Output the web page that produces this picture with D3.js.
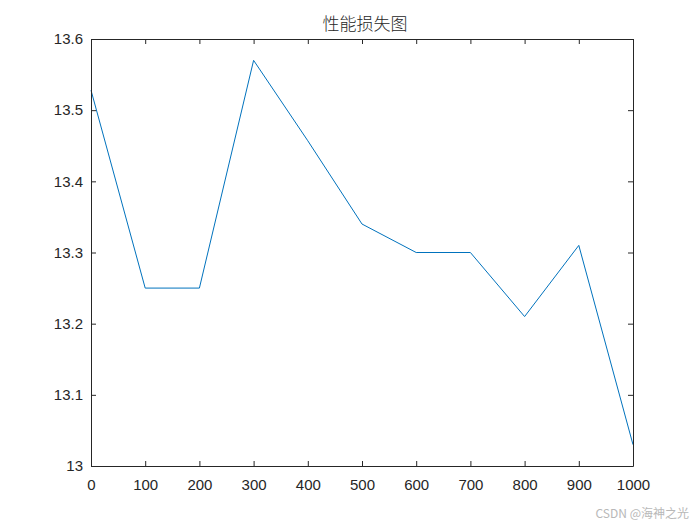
<!DOCTYPE html>
<html><head><meta charset="utf-8">
<script src="https://cdn.jsdelivr.net/npm/d3@7"></script>
<style>body{margin:0;background:#fff;} svg{display:block;}</style>
</head><body>
<svg id="c" width="700" height="525"></svg>
<script>
const xValues = [0, 100, 200, 300, 400, 500, 600, 700, 800, 900, 1000];
const yValues = [13.528, 13.25, 13.25, 13.57, 13.457, 13.34, 13.30, 13.30, 13.21, 13.31, 13.03];
const xTicks = [0, 100, 200, 300, 400, 500, 600, 700, 800, 900, 1000];
const yTicks = [13, 13.1, 13.2, 13.3, 13.4, 13.5, 13.6];
const title = "性能损失图";
const watermark = "CSDN @海神之光";

const svg = d3.select("#c");
const L = 91, R = 633, T = 39, B = 466;
const x = d3.scaleLinear().domain([0, 1000]).range([L, R]);
const y = d3.scaleLinear().domain([13, 13.6]).range([B, T]);
const font = "Liberation Sans, Arial, sans-serif";
const tl = 5;

svg.append("rect").attr("x", L).attr("y", T).attr("width", R - L).attr("height", B - T)
  .attr("fill", "#fff").attr("stroke", "none");

// line
svg.append("path").datum(xValues.map((d, i) => [d, yValues[i]]))
  .attr("fill", "none").attr("stroke", "#0072BD").attr("stroke-width", 1)
  .attr("d", d3.line().x(d => x(d[0])).y(d => y(d[1])));

const axisColor = "#262626";
const fmt = d => String(+d.toFixed(1));

const gB = svg.append("g").attr("transform", `translate(0,${B})`)
  .call(d3.axisBottom(x).tickValues(xTicks).tickSizeInner(-tl).tickSizeOuter(0).tickPadding(8).tickFormat(d3.format("d")));
const gT = svg.append("g").attr("transform", `translate(0,${T})`)
  .call(d3.axisTop(x).tickValues(xTicks).tickSizeInner(-tl).tickSizeOuter(0).tickFormat(""));
const gL = svg.append("g").attr("transform", `translate(${L},0)`)
  .call(d3.axisLeft(y).tickValues(yTicks).tickSizeInner(-tl).tickSizeOuter(0).tickPadding(8).tickFormat(fmt));
const gR = svg.append("g").attr("transform", `translate(${R},0)`)
  .call(d3.axisRight(y).tickValues(yTicks).tickSizeInner(-tl).tickSizeOuter(0).tickFormat(""));

[gB, gT, gL, gR].forEach(g => {
  g.select(".domain").attr("stroke", axisColor).attr("stroke-width", 1);
  g.selectAll(".tick line").attr("stroke", axisColor);
  g.selectAll(".tick text").attr("fill", axisColor).style("font-family", font).style("font-size", "15px");
});
gB.selectAll(".tick text").attr("dy", "0.71em").attr("y", 13);

svg.append("text").attr("x", (L + R) / 2 + 3).attr("y", 30).attr("text-anchor", "middle")
  .attr("fill", "#262626").style("font-family", "Noto Sans CJK SC, sans-serif").style("font-size", "17px")
  .style("font-weight", 300)
  .text(title);

svg.append("text").attr("x", 689).attr("y", 518).attr("text-anchor", "end")
  .attr("fill", "#b8b8b8").style("font-family", "Noto Sans CJK SC, sans-serif").style("font-size", "12px")
  .text(watermark);
</script>
</body></html>
